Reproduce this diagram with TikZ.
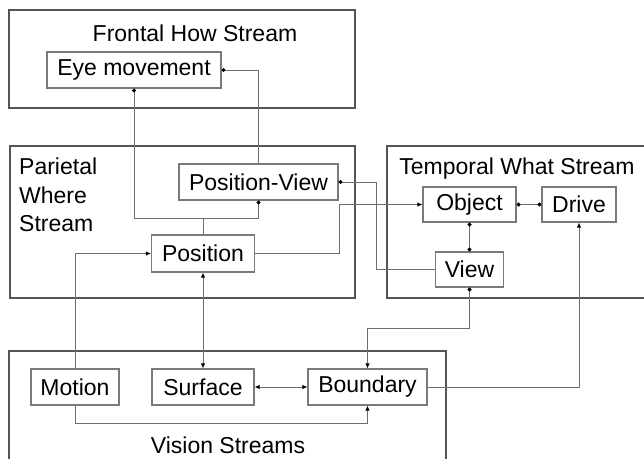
\documentclass[tikz,border=0pt]{standalone}
\usepackage{fontspec}
\setmainfont{Liberation Sans}
\usetikzlibrary{arrows.meta}
\definecolor{boxgray}{HTML}{7A7A7A}
\definecolor{regiongray}{HTML}{555555}
\definecolor{wiregray}{HTML}{6E6E6E}
\tikzset{
  ptip/.tip={Latex[length=5pt,width=4.5pt,color=black]},
  dtip/.tip={Circle[length=4pt,color=black]},
  unit/.style={draw=boxgray, line width=1.1pt, inner sep=0pt, minimum height=36pt,
    font=\fontsize{23}{27}\selectfont},
  region/.style={draw=regiongray, line width=1.1pt},
  title/.style={inner sep=0pt, font=\fontsize{23}{28.5}\selectfont},
  wire/.style={draw=wiregray, line width=0.9pt}
}
\begin{document}
\begin{tikzpicture}[x=1pt,y=-1pt]
\useasboundingbox (0,0) rectangle (644,458);
\clip (0,0) rectangle (644,458);
\fill[white] (0,0) rectangle (644,458);

% stream regions
\draw[region] (9,10) rectangle (355,108);
\draw[region] (10,146) rectangle (355,298);
\draw[region] (387,146) rectangle (660,298);
\draw[region] (9,351) rectangle (446,480);

\node[title] (tfrontal) at (195,33) {Frontal How Stream};
\node[title, anchor=north west, align=left] (tparietal) at (19,158) {Parietal\\Where\\Stream};
\node[title] (ttemporal) at (517,169) {Temporal What Stream};
\node[title] (tvision) at (228,445) {Vision Streams};

% processing units
\node[unit, minimum width=174pt] (eye) at (134,70) {Eye movement};
\node[unit, minimum width=159pt] (pv) at (258.5,182) {Position-View};
\node[unit, minimum width=103pt, minimum height=37pt] (pos) at (203,253.5) {Position};
\node[unit, minimum width=93pt, minimum height=35pt] (obj) at (469.5,204.5) {Object};
\node[unit, minimum width=74pt, minimum height=35pt] (drive) at (579,204.5) {Drive};
\node[unit, minimum width=68pt, minimum height=35pt] (view) at (469.5,269.5) {View};
\node[unit, minimum width=88pt] (motion) at (75,387) {Motion};
\node[unit, minimum width=102pt] (surface) at (203,387) {Surface};
\node[unit, minimum width=119pt] (boundary) at (367.5,387) {Boundary};

% routing points
\coordinate (jpos) at (203,218);
\coordinate (kpv) at (376,269.5);
\coordinate (kpos) at (339,204.5);
\coordinate (kview) at (0,328);
\coordinate (kmotion) at (0,423);

% connections
\draw[wire, -dtip] (pos.north) -- (jpos) -| (eye.south);
\draw[wire, -dtip] (jpos) -| (pv.south);
\draw[wire, -dtip] (pv.north) |- (eye.east);
\draw[wire, dtip-] (pv.east) -| (kpv) -- (view.west);
\draw[wire, -ptip] (pos.east) -| (kpos) -- (obj.west);
\draw[wire, dtip-dtip] (obj.east) -- (drive.west);
\draw[wire, dtip-dtip] (obj.south) -- (view.north);
\draw[wire, dtip-ptip] (view.south) -- (view.south |- kview) -| (boundary.north);
\draw[wire, -ptip] (boundary.east) -| (drive.south);
\draw[wire, ptip-ptip] (pos.south) -- (surface.north);
\draw[wire, ptip-ptip] (surface.east) -- (boundary.west);
\draw[wire, -ptip] (motion.north) |- (pos.west);
\draw[wire, -ptip] (motion.south) -- (motion.south |- kmotion) -| (boundary.south);
\end{tikzpicture}
\end{document}
